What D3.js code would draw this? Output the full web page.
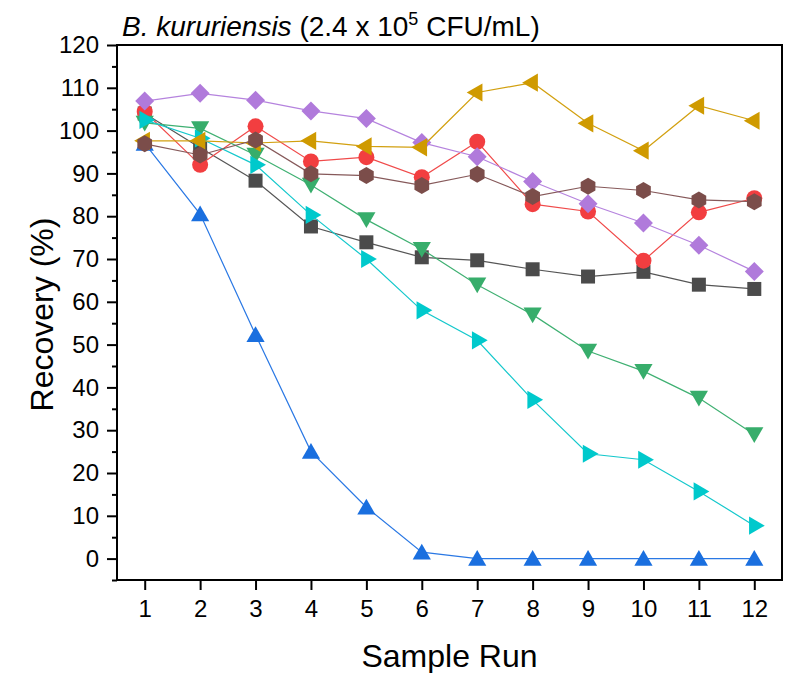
<!DOCTYPE html>
<html lang="en">
<head>
    <meta charset="UTF-8">
    <title>Recovery</title>
    <style>
      body { margin: 0; background: #fff; }
      text { font-family: "Liberation Sans", Arial, sans-serif; }
    </style>
</head>
<body>
    <svg></svg>
    <script src="https://d3js.org/d3.v7.min.js"></script>
    <script>
      const runs = [1, 2, 3, 4, 5, 6, 7, 8, 9, 10, 11, 12];
      const yTicks = [0, 10, 20, 30, 40, 50, 60, 70, 80, 90, 100, 110, 120];

      const graySquare = [104, 96, 88.3, 77.6, 73.9, 70.4, 69.7, 67.6, 65.9, 67, 64, 63];
      const redCircle = [104.4, 92, 101, 92.8, 93.8, 89.1, 97.4, 82.8, 81.1, 69.6, 80.9, 84.2];
      const blueUp = [97, 80.5, 52.3, 25, 12, 1.5, 0, 0, 0, 0, 0, 0];
      const greenDown = [101.8, 100.5, 94.3, 87.3, 79.2, 72.3, 64, 57, 48.5, 43.8, 37.5, 29];
      const cyanRight = [102.5, 98.2, 92, 80.3, 70, 58, 51, 37.1, 24.5, 23.1, 15.7, 7.7];
      const purpleDiamond = [106.9, 108.7, 107.1, 104.6, 102.8, 97.2, 93.9, 88.1, 82.9, 78.4, 73.2, 67.1];
      const goldLeft = [97.6, 97.6, 97.1, 97.6, 96.3, 96.1, 108.9, 111.2, 101.7, 95.3, 105.8, 102.3];
      const brownHex = [96.9, 94.3, 97.8, 89.9, 89.5, 87.2, 89.8, 84.6, 87, 86, 83.8, 83.4];

      const series = [
        {values: graySquare, color: "#4b4b4b", line: "#555", shape: "square"},
        {values: redCircle, color: "#f23e40", line: "#f04a4a", shape: "circle"},
        {values: blueUp, color: "#1a6fdf", line: "#2a78e4", shape: "up"},
        {values: greenDown, color: "#37ad6b", line: "#3fb072", shape: "down"},
        {values: cyanRight, color: "#00c9cc", line: "#14c8cc", shape: "right"},
        {values: purpleDiamond, color: "#b07adb", line: "#b583de", shape: "diamond"},
        {values: goldLeft, color: "#cf9a00", line: "#d2a010", shape: "left"},
        {values: brownHex, color: "#7b4d4a", line: "#86595a", shape: "hex"}
      ];

      const width = 787, height = 673;
      const m = {top: 45, right: 5, bottom: 93, left: 117};

      const svg = d3.select("svg").attr("width", width).attr("height", height);

      const x = d3.scaleLinear().domain([0.5, 12.5]).range([m.left, width - m.right]);
      const y = d3.scaleLinear().domain([-5, 120]).range([height - m.bottom, m.top]);

      // marker shapes
      function marker(shape) {
        const p = d3.path();
        if (shape === "square") {
          const h = 7; p.rect(-h, -h, 2 * h, 2 * h);
        } else if (shape === "circle") {
          p.arc(0, 0, 8, 0, 2 * Math.PI);
        } else if (shape === "diamond") {
          const h = 9.5; p.moveTo(0, -h); p.lineTo(h, 0); p.lineTo(0, h); p.lineTo(-h, 0); p.closePath();
        } else if (shape === "hex") {
          const r = 8.5;
          for (let i = 0; i < 6; i++) {
            const a = Math.PI / 6 + i * Math.PI / 3;
            const px = r * Math.cos(a), py = r * Math.sin(a);
            i ? p.lineTo(px, py) : p.moveTo(px, py);
          }
          p.closePath();
        } else {
          const r = 10.5;
          const rot = {up: -90, down: 90, right: 0, left: 180}[shape];
          for (let i = 0; i < 3; i++) {
            const a = (rot + i * 120) * Math.PI / 180;
            const px = r * Math.cos(a), py = r * Math.sin(a) + (shape === "up" ? 2 : shape === "down" ? -2 : 0);
            i ? p.lineTo(px, py) : p.moveTo(px, py);
          }
          p.closePath();
        }
        return p.toString();
      }

      const line = d3.line().x((d, i) => x(runs[i])).y(d => y(d));

      series.forEach(s => {
        const g = svg.append("g");
        g.append("path")
          .attr("d", line(s.values))
          .attr("fill", "none")
          .attr("stroke", s.line)
          .attr("stroke-width", 1.2);
        g.selectAll("path.mk")
          .data(s.values)
          .join("path")
            .attr("class", "mk")
            .attr("transform", (d, i) => `translate(${x(runs[i])},${y(d)})`)
            .attr("d", marker(s.shape))
            .attr("fill", s.color);
      });

      // frame
      svg.append("rect")
        .attr("x", m.left).attr("y", m.top)
        .attr("width", width - m.right - m.left)
        .attr("height", height - m.bottom - m.top)
        .attr("fill", "none").attr("stroke", "#000").attr("stroke-width", 2);

      const yAxis = d3.axisLeft(y).tickValues(yTicks).tickSize(10).tickPadding(8).tickSizeOuter(0);
      svg.append("g")
        .attr("transform", `translate(${m.left},0)`)
        .call(yAxis)
        .call(g => g.select(".domain").remove())
        .call(g => g.selectAll(".tick line").attr("stroke-width", 2))
        .call(g => g.selectAll(".tick text").attr("font-size", 24).attr("fill", "#000").attr("font-family", "Liberation Sans, Arial, sans-serif"));

      svg.append("g")
        .attr("transform", `translate(${m.left},0)`)
        .call(d3.axisLeft(y).tickValues(d3.range(-5, 121, 10)).tickSize(5).tickFormat(""))
        .call(g => g.select(".domain").remove())
        .call(g => g.selectAll(".tick line").attr("stroke-width", 2));

      const xAxis = d3.axisBottom(x).tickValues(runs).tickSize(10).tickPadding(10).tickSizeOuter(0);
      svg.append("g")
        .attr("transform", `translate(0,${height - m.bottom})`)
        .call(xAxis)
        .call(g => g.select(".domain").remove())
        .call(g => g.selectAll(".tick line").attr("stroke-width", 2))
        .call(g => g.selectAll(".tick text").attr("font-size", 24).attr("fill", "#000").attr("font-family", "Liberation Sans, Arial, sans-serif"));

      // title
      const title = svg.append("text").attr("x", 122).attr("y", 36).attr("font-size", 28);
      title.append("tspan").attr("font-style", "italic").text("B. kururiensis");
      title.append("tspan").text(" (2.4 x 10");
      title.append("tspan").attr("font-size", 18).attr("dy", -11).text("5");
      title.append("tspan").attr("dy", 11).text(" CFU/mL)");

      svg.append("text")
        .attr("transform", `translate(53,${(m.top + height - m.bottom) / 2 + 2}) rotate(-90)`)
        .attr("text-anchor", "middle")
        .attr("font-size", 32)
        .text("Recovery (%)");

      svg.append("text")
        .attr("x", (m.left + width - m.right) / 2)
        .attr("y", 667)
        .attr("text-anchor", "middle")
        .attr("font-size", 32)
        .text("Sample Run");
    </script>
</body>
</html>
